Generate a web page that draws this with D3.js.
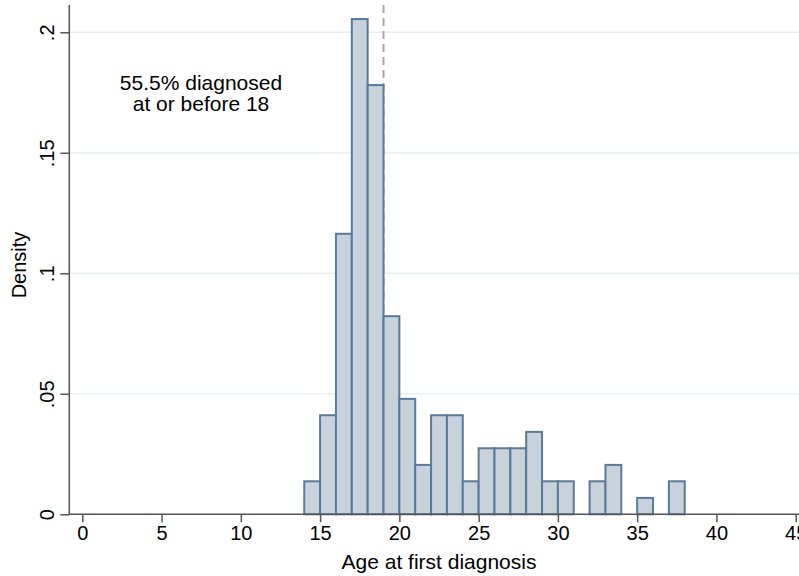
<!DOCTYPE html>
<html>
<head>
<meta charset="utf-8">
<script src="https://cdn.jsdelivr.net/npm/d3@7"></script>
<style>
  body { margin: 0; background: #fff; }
  svg { font-family: "Liberation Sans", Arial, sans-serif; }
</style>
</head>
<body>
<div id="chart"></div>
<script>
// histogram bins (age, width 1) and density
var binStart = [14,15,16,17,18,19,20,21,22,23,24,25,26,27,28,29,30,32,33,35,37];
var density  = [0.0137,0.0411,0.1164,0.2055,0.1781,0.0822,0.0479,0.0205,0.0411,0.0411,0.0137,
                0.0274,0.0274,0.0274,0.0342,0.0137,0.0137,0.0137,0.0205,0.0068,0.0137];
var xTicks = [0,5,10,15,20,25,30,35,40,45];
var yTicks = [0,0.05,0.1,0.15,0.2];
var yTickLabels = ["0",".05",".1",".15",".2"];
var cutoff = 19;

var width = 799, height = 576;
var axisX = 69.3, axisY = 514.3;

var x = d3.scaleLinear().domain([0,45]).range([82.3,795.7]);
var y = d3.scaleLinear().domain([0,0.2]).range([axisY,32.3]);

var svg = d3.select('#chart').append('svg')
    .attr('width', width)
    .attr('height', height);

// gridlines
svg.append('g').selectAll('line')
    .data(yTicks.slice(1))
    .enter().append('line')
    .attr('x1', axisX).attr('x2', width)
    .attr('y1', function(d){ return y(d); })
    .attr('y2', function(d){ return y(d); })
    .style('stroke', '#eaf0f2')
    .style('stroke-width', 1.5);

// cutoff line
svg.append('line')
    .attr('x1', x(cutoff)).attr('x2', x(cutoff))
    .attr('y1', 5).attr('y2', axisY)
    .style('stroke', '#a8a8a8')
    .style('stroke-width', 2)
    .style('stroke-dasharray', '8,5');

// bars
svg.append('g').selectAll('rect')
    .data(binStart)
    .enter().append('rect')
    .attr('x', function(d){ return x(d); })
    .attr('width', function(d){ return x(d+1) - x(d); })
    .attr('y', function(d,i){ return y(density[i]); })
    .attr('height', function(d,i){ return axisY - y(density[i]); })
    .style('fill', '#c8d2dd')
    .style('stroke', '#5a7a9a')
    .style('stroke-width', 2);

// x axis
var xAxis = d3.axisBottom(x).tickValues(xTicks).tickSize(8).tickPadding(4);
var gx = svg.append('g')
    .attr('transform', 'translate(0,' + axisY + ')')
    .call(xAxis);
gx.select('.domain').remove();
gx.append('line').attr('x1', axisX).attr('x2', width).attr('y1',0).attr('y2',0)
    .style('stroke', '#555').style('stroke-width', 1.5);
gx.selectAll('.tick line').style('stroke', '#555').style('stroke-width', 1.5);
gx.selectAll('.tick text').style('font-size', '20px').style('fill', '#000')
    .style('font-family', '"Liberation Sans", Arial, sans-serif');

// y axis
var yAxis = d3.axisLeft(y).tickValues(yTicks).tickSize(9).tickPadding(6)
    .tickFormat(function(d,i){ return yTickLabels[i]; });
var gy = svg.append('g')
    .attr('transform', 'translate(' + axisX + ',0)')
    .call(yAxis);
gy.select('.domain').remove();
gy.append('line').attr('x1',0).attr('x2',0).attr('y1',5).attr('y2',axisY)
    .style('stroke', '#555').style('stroke-width', 1.5);
gy.selectAll('.tick line').style('stroke', '#555').style('stroke-width', 1.5);
gy.selectAll('.tick text')
    .style('font-size', '20px').style('fill', '#000')
    .style('font-family', '"Liberation Sans", Arial, sans-serif')
    .attr('text-anchor', 'middle')
    .attr('dy', null)
    .attr('x', null)
    .attr('transform', function(d){ return 'translate(-22,0) rotate(-90)'; })
    .attr('y', 7);

// axis titles
svg.append('text')
    .attr('x', 439).attr('y', 569)
    .attr('text-anchor', 'middle')
    .style('font-size', '21px')
    .text('Age at first diagnosis');

svg.append('text')
    .attr('transform', 'translate(26,265) rotate(-90)')
    .attr('text-anchor', 'middle')
    .style('font-size', '20px')
    .text('Density');

// annotation
var note = svg.append('text')
    .attr('text-anchor', 'middle')
    .style('font-size', '21px');
note.append('tspan').attr('x', 201).attr('y', 90).text('55.5% diagnosed');
note.append('tspan').attr('x', 201).attr('y', 111).text('at or before 18');
</script>
</body>
</html>
